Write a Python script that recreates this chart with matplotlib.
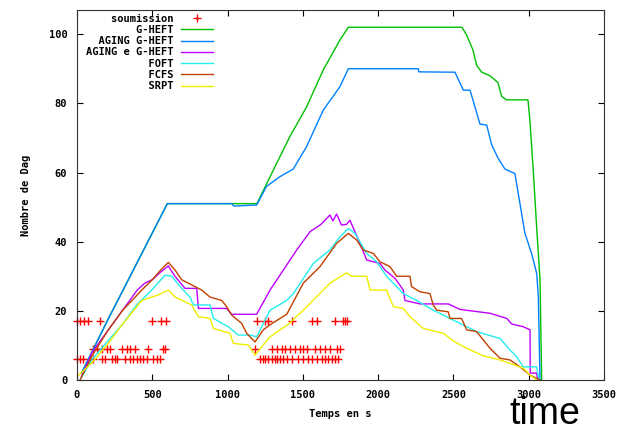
import matplotlib
matplotlib.use("Agg")
import matplotlib.pyplot as plt

# submissions (three rows of "+")
sub_x17 = [0, 20, 46, 73, 153, 498, 558, 591, 1193, 1248, 1271, 1426, 1560, 1594, 1713, 1768, 1780, 1791]
sub_x9 = [108, 131, 164, 197, 219, 297, 330, 352, 385, 474, 573, 584,
          1182, 1293, 1326, 1359, 1381, 1415, 1448, 1481, 1503, 1525, 1581, 1614, 1647, 1680, 1725, 1746]
sub_x6 = [0, 20, 40, 86, 108, 164, 186, 230, 250, 263, 319, 352, 374, 396, 418, 440, 462, 507, 530, 551,
          1215, 1233, 1248, 1271, 1293, 1315, 1326, 1348, 1370, 1393, 1426, 1470, 1503, 1536, 1558, 1591,
          1625, 1647, 1669, 1691, 1713, 1736]

gheft_x = [30, 200, 400, 600, 1195, 1304, 1414, 1525, 1636, 1746, 1802, 2557, 2588, 2630, 2654, 2688,
           2742, 2796, 2820, 2853, 2995, 3008, 3030, 3053, 3075, 3086]
gheft_y = [2, 17, 34, 51, 51, 60.7, 70.4, 79, 89.7, 98.3, 102, 102, 99.7, 95.4, 91, 89,
           88, 86, 82, 81, 81, 75, 60.7, 44, 29, 0]

aging_x = [30, 200, 400, 600, 1030, 1040, 1193, 1259, 1348, 1436, 1525, 1635, 1746, 1802, 2267, 2270, 2510,
           2566, 2610, 2643, 2676, 2721, 2754, 2798, 2842, 2908, 2942, 2975, 3019, 3053, 3064, 3075]
aging_y = [2, 17, 34, 51, 51, 50.3, 50.6, 56, 58.8, 61, 67.5, 78, 84.8, 90, 90, 89.1, 89,
           83.8, 83.8, 79, 74, 73.7, 68, 64, 61, 59.7, 51, 42.4, 36.6, 30.8, 24, 0]

aginge_x = [30, 100, 200, 300, 400, 450, 500, 550, 607, 620, 651, 717, 795, 806, 994, 1027, 1193, 1282,
            1459, 1548, 1620, 1680, 1700, 1724, 1757, 1790, 1813, 1879, 1924, 2012, 2045, 2112, 2167,
            2178, 2278, 2466, 2544, 2743, 2854, 2887, 2964, 3009, 3010, 3052, 3060]
aginge_y = [1, 8, 14, 20, 26, 28, 29, 31, 33, 32, 30, 26.5, 26.5, 20.7, 20.7, 19, 19, 26,
            37.6, 42.9, 45, 47.7, 46, 48, 44.8, 45, 46.2, 39.5, 34.7, 33.7, 31.8, 29.4, 26,
            23, 22, 22, 20.4, 19.3, 17.8, 16.2, 15.4, 14.5, 2, 2, 0]

foft_x = [20, 100, 200, 300, 396, 496, 584, 629, 695, 750, 773, 883, 906, 1005, 1071, 1149, 1193, 1282,
          1393, 1437, 1569, 1680, 1746, 1802, 1846, 1924, 1990, 2056, 2167, 2256, 2366, 2499, 2654,
          2809, 2876, 2920, 2964, 3052, 3069]
foft_y = [0, 6, 11, 16, 21.7, 26, 30.3, 30, 26.5, 24, 21.7, 21.7, 17.8, 15.4, 13, 13, 12.5, 20.2,
          23, 25, 33.7, 37.6, 41.4, 43.8, 42.4, 36.6, 34.2, 30, 25, 23, 20.2, 17.3, 14,
          12, 8.7, 6.7, 3.8, 3.8, 0]

fcfs_x = [20, 100, 200, 300, 430, 500, 560, 607, 651, 695, 828, 883, 961, 994, 1027, 1093, 1127, 1182,
          1237, 1282, 1393, 1503, 1614, 1724, 1802, 1857, 1901, 1968, 2012, 2078, 2123, 2211, 2222,
          2278, 2344, 2366, 2389, 2466, 2477, 2554, 2588, 2654, 2698, 2743, 2809, 2876, 2942, 3009, 3075]
fcfs_y = [0, 7, 14, 20, 26, 29, 32, 34, 31.8, 29, 26, 24, 23, 21.2, 18.8, 16.4, 13.5, 11,
          14.5, 16, 19, 28, 32.8, 39.5, 42.4, 40.5, 37.6, 36.6, 34.2, 32.8, 30, 30, 27,
          25.5, 25, 21.7, 20.2, 19.7, 17.8, 17.8, 14.5, 14, 11.6, 9.2, 6.3, 5.8, 3.8, 1.4, 0]

srpt_x = [0, 100, 208, 300, 430, 540, 607, 651, 762, 806, 883, 906, 1016, 1038, 1138, 1182, 1282, 1400,
          1503, 1680, 1790, 1824, 1924, 1946, 2056, 2101, 2167, 2211, 2300, 2433, 2510, 2588, 2698,
          2809, 2876, 2964, 3009, 3052]
srpt_y = [1, 5, 10.6, 16, 23, 24.6, 26, 24, 21.7, 18.3, 17.8, 14.9, 13.5, 10.6, 10.1, 7.2, 12.5, 16,
          20.2, 28, 31, 30, 30, 26, 26, 21.2, 20.7, 18.3, 14.9, 13.5, 11, 9.2, 7,
          5.8, 4.8, 3.4, 1.4, 0]

mono = {"family": "DejaVu Sans Mono", "weight": "bold", "size": 7.5}

fig = plt.figure(figsize=(6.25, 4.29), dpi=100)
ax = fig.add_axes([0.1232, 0.1142, 0.8432, 0.8626])

sx = sub_x17 + sub_x9 + sub_x6
sy = [17] * len(sub_x17) + [9] * len(sub_x9) + [6] * len(sub_x6)
ax.plot(sx, sy, ls="none", marker="+", ms=6, mew=1, color="#ff0000", label="soumission", clip_on=False)
lw = 1.0
ax.plot(gheft_x, gheft_y, color="#00c000", lw=lw, label="G-HEFT")
ax.plot(aging_x, aging_y, color="#0080ff", lw=lw, label="AGING G-HEFT")
ax.plot(aginge_x, aginge_y, color="#c000ff", lw=lw, label="AGING e G-HEFT")
ax.plot(foft_x, foft_y, color="#22eeee", lw=lw, label="FOFT")
ax.plot(fcfs_x, fcfs_y, color="#c04000", lw=lw, label="FCFS")
ax.plot(srpt_x, srpt_y, color="#eeee00", lw=lw, label="SRPT")

ax.set_xlim(0, 3500)
ax.set_ylim(0, 107)
ax.set_xticks(range(0, 3501, 500))
ax.set_yticks(range(0, 101, 20))
ax.tick_params(direction="in", top=True, right=True, length=4, width=0.8, pad=7)
for lab in ax.get_xticklabels() + ax.get_yticklabels():
    lab.set_fontproperties(mono)
for s in ax.spines.values():
    s.set_linewidth(0.8)
    s.set_color("#333333")

ax.set_xlabel("Temps en s", fontdict=mono)
ax.set_ylabel("Nombre de Dag", fontdict=mono)
ax.xaxis.set_label_coords(0.5, -0.078)
ax.yaxis.set_label_coords(-0.087, 0.5)

handles, labels = ax.get_legend_handles_labels()
labels = [l.rjust(14) for l in labels]
leg = ax.legend(handles, labels, loc="upper left", bbox_to_anchor=(0.018, 0.99),
                markerfirst=False, frameon=False, prop=mono, borderpad=0, borderaxespad=0,
                labelspacing=0.12, handlelength=3.0, handletextpad=0.7)

fig.text(545 / 625, 0.012, "time", family="Liberation Sans", fontsize=27, ha="center", va="baseline")

fig.savefig("out.png", dpi=100)
